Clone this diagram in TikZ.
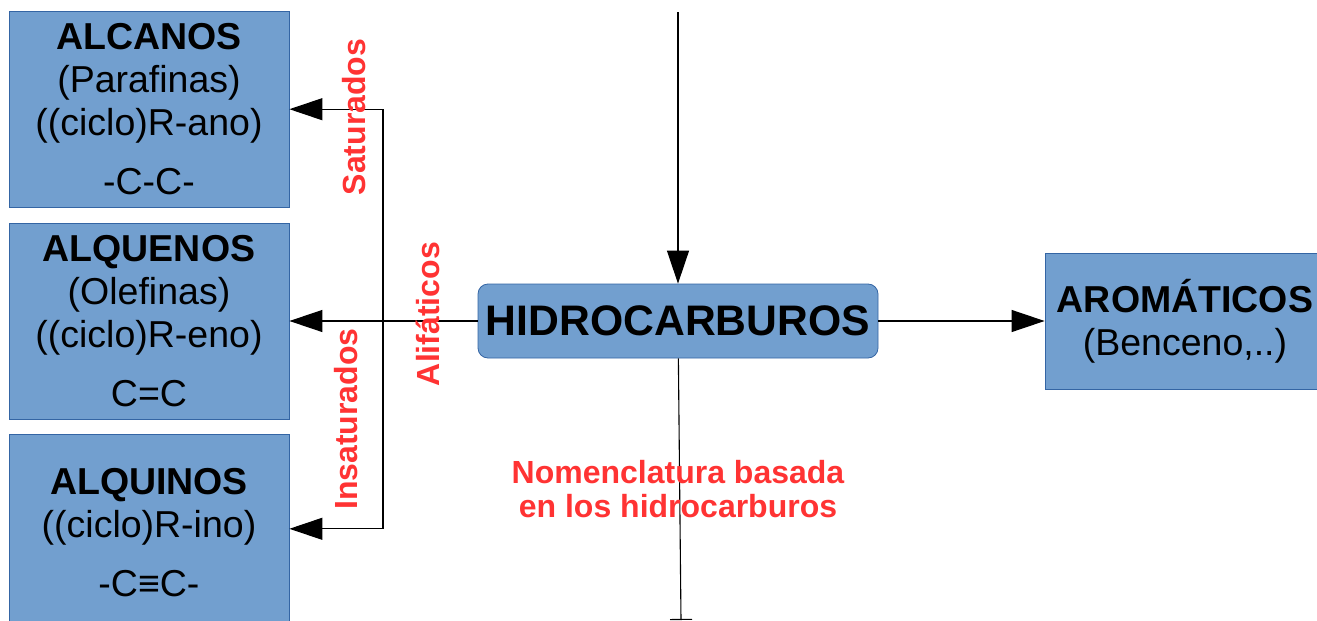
\documentclass[tikz,border=0pt]{standalone}
\usepackage{fontspec}
\setmainfont{Liberation Sans}
\usepackage{tikz}
\usetikzlibrary{positioning,arrows.meta}

\definecolor{boxfill}{HTML}{729FCF}
\definecolor{boxline}{HTML}{3465A4}
\definecolor{labred}{HTML}{FF3333}

\begin{document}
\begin{tikzpicture}[x=1pt, y=1pt, node distance=15pt,
    familia/.style={draw=boxline, fill=boxfill, line width=0.8pt, inner sep=0pt,
      minimum width=280pt, minimum height=196pt, align=center,
      font=\fontsize{37.5}{43}\selectfont},
    ->/.style={line width=1.1pt, -{Triangle[length=33pt,width=22pt]}},
    rotulo/.style={text=labred, font=\fontsize{32}{34}\selectfont\bfseries, align=center}]
    \useasboundingbox (0,0) rectangle (1317,-621);

    \node[familia] (alq) at (149,-321) {\textbf{ALQUENOS}\\(Olefinas)\\((ciclo)R-eno)\\[16pt]C=C};
    \node[familia] (alc) [above=of alq] {\textbf{ALCANOS}\\(Parafinas)\\((ciclo)R-ano)\\[16pt]-C-C-};
    \node[familia] (alqui) [below=of alq] {\textbf{ALQUINOS}\\((ciclo)R-ino)\\[16pt]-C≡C-};
    \node[familia, rounded corners=10pt, minimum width=400pt, minimum height=74pt,
      font=\fontsize{42.7}{48}\selectfont\bfseries] (H) at (678,-321) {HIDROCARBUROS};
    \node[familia, minimum height=136pt] (A) at (1185,-321) {\textbf{AROMÁTICOS}\\(Benceno,..)};

    \coordinate (top) at (678,-12);
    \coordinate (bot) at (681,-620);
    \coordinate (split) at (383,-321);

    \draw[->] (top) -- (H);
    \draw[->] (H) -- (A);
    \draw[->] (H) -- (alq);
    \draw[->] (split) |- (alc);
    \draw[->] (split) |- ([yshift=4pt]alqui.east);
    \draw[line width=1.1pt, -{Bar[width=22pt]}] (H) -- (bot);

    \node[rotulo, rotate=90] (sat) at (354,-117) {Saturados};
    \node[rotulo, rotate=90] (ins) at (346,-419) {Insaturados};
    \node[rotulo, rotate=90] (alif) at (428,-314) {Alifáticos};
    \node[rotulo] (nom) at (678,-489) {Nomenclatura basada\\en los hidrocarburos};
  \end{tikzpicture}
\end{document}
